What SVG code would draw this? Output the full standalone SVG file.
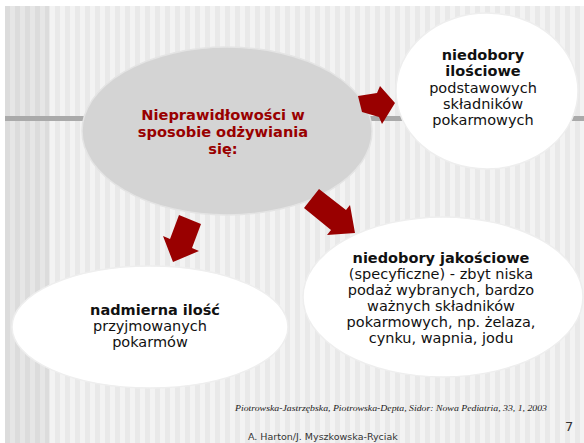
<svg xmlns="http://www.w3.org/2000/svg" width="584" height="443" viewBox="0 0 584 443">
<defs>
<pattern id="stripesDark" x="5" y="0" width="10" height="10" patternUnits="userSpaceOnUse">
<rect width="10" height="10" fill="#e6e6e6"/>
<rect width="5" height="10" fill="#dcdcdc"/>
</pattern>
<pattern id="stripesLight" x="5" y="0" width="10" height="10" patternUnits="userSpaceOnUse">
<rect width="10" height="10" fill="#f3f3f3"/>
<rect width="5" height="10" fill="#e9e9e9"/>
</pattern>
<style>
.node text{font-family:"DejaVu Sans",Verdana,sans-serif;font-size:14.5px;fill:#111;text-anchor:middle}
.node .b{font-weight:bold}
.title text{font-family:"DejaVu Sans",Verdana,sans-serif;font-size:14.6px;font-weight:bold;fill:#990000;text-anchor:middle}
.white{fill:#ffffff;stroke:#eeeeee;stroke-width:1.5}
.arrow{fill:#990000}
.foot{font-family:"DejaVu Sans",Verdana,sans-serif;fill:#333}
</style>
</defs>
<rect width="584" height="443" fill="#ffffff"/>
<rect x="5" y="6" width="579" height="437" fill="url(#stripesLight)"/>
<rect x="5" y="6" width="44" height="437" fill="url(#stripesDark)"/>
<rect x="5" y="116" width="579" height="5" fill="#aaaaaa"/>

<g id="center" class="title">
<ellipse cx="227" cy="131" rx="145" ry="84" fill="#d4d4d4" stroke="#e4e4e4" stroke-width="1.5"/>
<text x="223" y="120">Nieprawidłowości w</text>
<text x="223" y="137">sposobie odżywiania</text>
<text x="223" y="154">się:</text>
</g>

<g id="quantitative" class="node">
<ellipse class="white" cx="487" cy="91" rx="91" ry="78"/>
<text class="b" x="483" y="60">niedobory</text>
<text class="b" x="483" y="76">ilościowe</text>
<text x="483" y="93">podstawowych</text>
<text x="483" y="109">składników</text>
<text x="483" y="125">pokarmowych</text>
</g>

<g id="qualitative" class="node">
<ellipse class="white" cx="443" cy="297" rx="140" ry="80"/>
<text class="b" x="441" y="263">niedobory jakościowe</text>
<text x="441" y="279">(specyficzne) - zbyt niska</text>
<text x="441" y="295">podaż wybranych, bardzo</text>
<text x="441" y="311">ważnych składników</text>
<text x="441" y="327">pokarmowych, np. żelaza,</text>
<text x="441" y="343">cynku, wapnia, jodu</text>
</g>

<g id="excess" class="node">
<ellipse class="white" cx="150" cy="327" rx="138" ry="61"/>
<text class="b" x="155" y="315" font-size="16">nadmierna ilość</text>
<text x="150" y="331">przyjmowanych</text>
<text x="150" y="347">pokarmów</text>
</g>

<g id="connectors">
<polygon class="arrow" points="358,96 377,93 380,86 395,103 382,124 379,117 362,112"/>
<polygon class="arrow" points="319,189 346,210 350,205 355,233 327,235 331,230 304,208"/>
<polygon class="arrow" points="179,215 201,224 192,248 199,251 173,262 163,236 170,239"/>
</g>

<g id="footer">
<text x="235" y="411" font-family="'Liberation Serif',serif" font-style="italic" font-size="9" fill="#222" textLength="312" lengthAdjust="spacingAndGlyphs">Piotrowska-Jastrzębska, Piotrowska-Depta, Sidor: Nowa Pediatria, 33, 1, 2003</text>
<text class="foot" x="565" y="431" font-size="13">7</text>
<text class="foot" x="248" y="440" font-size="9.5">A. Harton/J. Myszkowska-Ryciak</text>
</g>
</svg>
